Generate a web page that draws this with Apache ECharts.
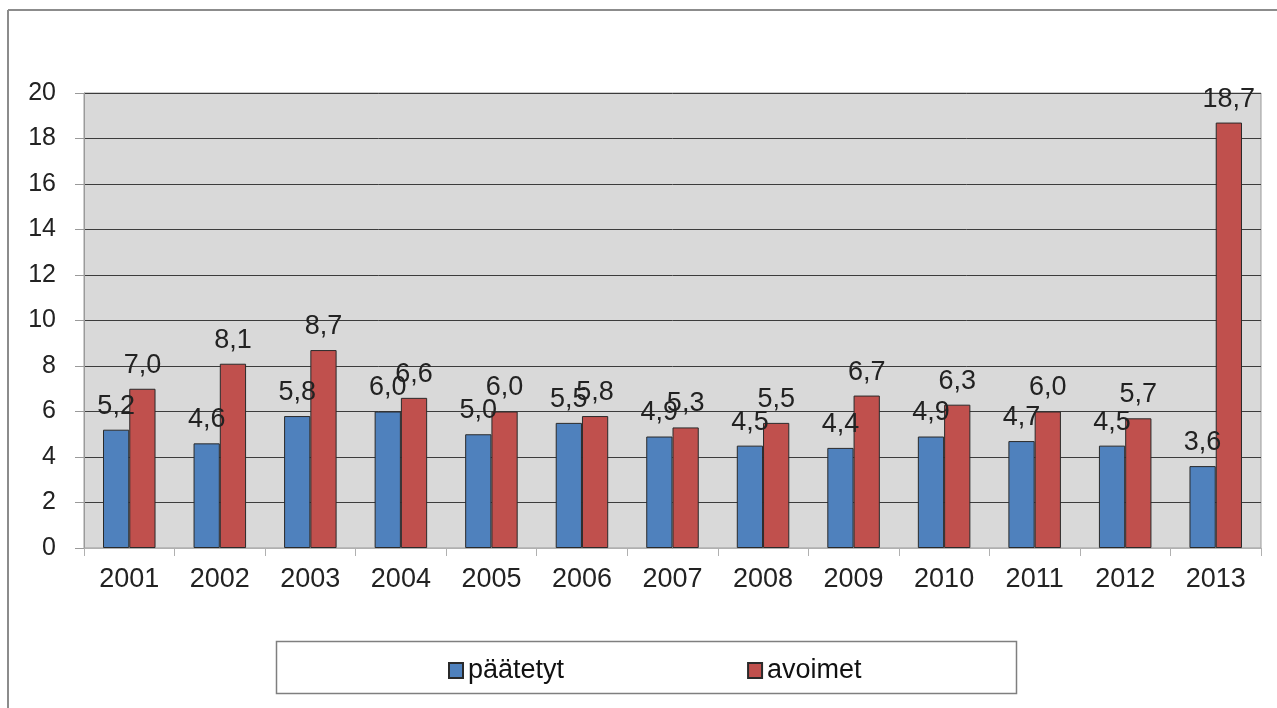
<!DOCTYPE html>
<html>
<head>
<meta charset="utf-8">
<script src="https://cdn.jsdelivr.net/npm/echarts@6/dist/echarts.min.js"></script>
<style>
  html, body { margin: 0; padding: 0; background: #fff; }
  #main { width: 1277px; height: 708px; }
</style>
</head>
<body>
<div id="main"></div>
<script>
// years and values
const years = ['2001','2002','2003','2004','2005','2006','2007','2008','2009','2010','2011','2012','2013'];
const paatetyt = [5.2, 4.6, 5.8, 6.0, 5.0, 5.5, 4.9, 4.5, 4.4, 4.9, 4.7, 4.5, 3.6];
const avoimet = [7.0, 8.1, 8.7, 6.6, 6.0, 5.8, 5.3, 5.5, 6.7, 6.3, 6.0, 5.7, 18.7];
const yTicks = { min: 0, max: 20, interval: 2 };

const font = 'Liberation Sans, Arial, sans-serif';

// finnish decimal comma
const fmt = p => p.value.toFixed(1).replace('.', ',');

const chart = echarts.init(document.getElementById('main'));

const barLabel = {
  show: true,
  position: 'top',
  distance: 10,
  formatter: fmt,
  fontFamily: font,
  fontSize: 27,
  color: '#222'
};

chart.setOption({
  animation: false,
  textStyle: { fontFamily: font },
  graphic: [
    // outer frame (only top and left visible)
    { type: 'line', shape: { x1: 8, y1: 10, x2: 1277, y2: 10 }, style: { stroke: '#8c8c8c', lineWidth: 2 } },
    { type: 'line', shape: { x1: 8, y1: 10, x2: 8, y2: 708 }, style: { stroke: '#8c8c8c', lineWidth: 2 } },
    // legend frame
    { type: 'rect', shape: { x: 276.5, y: 641.5, width: 740, height: 52 }, style: { fill: 'none', stroke: '#7f7f7f', lineWidth: 1.5 } }
  ],
  grid: {
    left: 84,
    right: 16,
    top: 93,
    bottom: 160,
    show: true,
    backgroundColor: '#d9d9d9',
    borderColor: '#9a9a9a',
    borderWidth: 1
  },
  legend: {
    left: 443,
    top: 652,
    itemWidth: 14,
    itemHeight: 15,
    itemGap: 183,
    icon: 'rect',
    textStyle: { fontFamily: font, fontSize: 27, color: '#111' },
    data: ['päätetyt', 'avoimet']
  },
  xAxis: {
    type: 'category',
    data: years,
    axisLine: { show: true, lineStyle: { color: '#b0b0b0', width: 1 } },
    axisTick: { show: true, length: 8, lineStyle: { color: '#b0b0b0' } },
    axisLabel: { fontFamily: font, fontSize: 27, color: '#222', margin: 18 }
  },
  yAxis: {
    type: 'value',
    min: yTicks.min,
    max: yTicks.max,
    interval: yTicks.interval,
    axisLine: { show: true, lineStyle: { color: '#9a9a9a' } },
    axisTick: { show: true, length: 9, lineStyle: { color: '#9a9a9a' } },
    axisLabel: { fontFamily: font, fontSize: 25, color: '#222', margin: 28 },
    splitLine: { show: true, lineStyle: { color: '#3c3c3c', width: 1 } }
  },
  series: [
    {
      name: 'päätetyt',
      type: 'bar',
      data: paatetyt,
      barGap: '0%',
      barCategoryGap: '42%',
      itemStyle: { color: '#4f81bd', borderColor: '#2a2a2a', borderWidth: 1 },
      label: barLabel
    },
    {
      name: 'avoimet',
      type: 'bar',
      data: avoimet,
      barGap: '0%',
      barCategoryGap: '42%',
      itemStyle: { color: '#c0504d', borderColor: '#2a2a2a', borderWidth: 1 },
      label: barLabel
    }
  ]
});
</script>
</body>
</html>
